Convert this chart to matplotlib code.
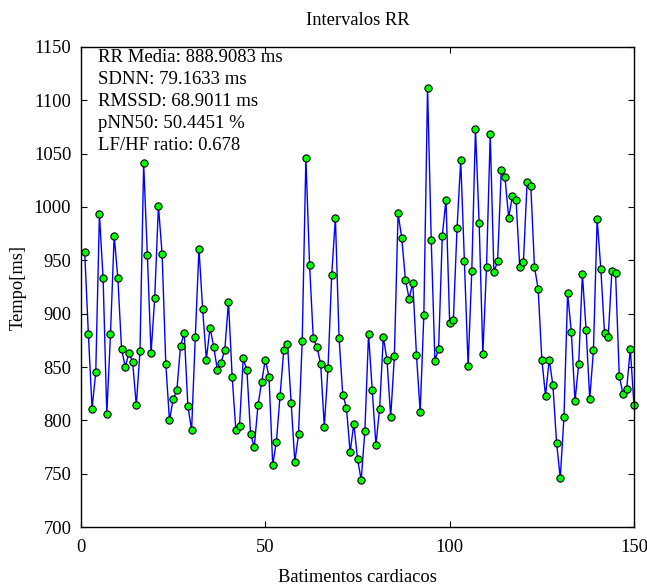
import matplotlib
matplotlib.use("Agg")
import matplotlib.pyplot as plt

beats = list(range(1, 151))
rr_ms = [
    958, 881, 811, 845, 993, 933, 806, 881, 973, 933,
    867, 850, 863, 855, 814, 865, 1041, 955, 863, 915,
    1001, 956, 853, 800, 820, 828, 870, 882, 813, 791,
    878, 961, 904, 857, 887, 869, 847, 854, 866, 911,
    841, 791, 795, 858, 847, 787, 775, 814, 836, 857,
    841, 758, 780, 823, 866, 872, 816, 761, 787, 874,
    1046, 946, 877, 869, 853, 794, 849, 936, 990, 877,
    824, 812, 770, 797, 764, 744, 790, 881, 828, 777,
    811, 878, 857, 803, 860, 994, 971, 932, 914, 929,
    861, 808, 899, 1112, 969, 856, 867, 973, 1007, 891,
    894, 980, 1044, 949, 851, 940, 1073, 985, 862, 944,
    1068, 939, 949, 1035, 1028, 990, 1010, 1007, 944, 948,
    1023, 1020, 944, 923, 857, 823, 857, 833, 779, 746,
    803, 919, 883, 818, 853, 937, 885, 820, 866, 989,
    942, 882, 878, 940, 938, 842, 825, 829, 867, 814,
]
stats_lines = [
    "RR Media: 888.9083 ms",
    "SDNN: 79.1633 ms",
    "RMSSD: 68.9011 ms",
    "pNN50: 50.4451 %",
    "LF/HF ratio: 0.678",
]
x_ticks = [0, 50, 100, 150]
y_ticks = [700, 750, 800, 850, 900, 950, 1000, 1050, 1100, 1150]

plt.rcParams['font.family'] = ['Liberation Serif', 'DejaVu Serif']

fig = plt.figure(figsize=(6.47, 5.85), dpi=100)
ax = fig.add_axes([81/647, 1-527/585, (634-81)/647, (527-47)/585])

ax.plot(beats, rr_ms, color=(0, 0, 1), linewidth=1.0,
        marker='o', markersize=5.2, markerfacecolor=(0, 1, 0),
        markeredgecolor='black', markeredgewidth=0.8, clip_on=False)

ax.set_xlim(0, 150)
ax.set_ylim(700, 1150)
ax.set_xticks(x_ticks)
ax.set_yticks(y_ticks)
ax.tick_params(direction='in', length=4, width=0.8, labelsize=13.3,
               top=True, right=True)
ax.tick_params(axis='x', pad=9)
ax.tick_params(axis='y', pad=7)
for s in ax.spines.values():
    s.set_linewidth(1.0)

ax.set_title("Intervalos RR", fontsize=13.3, pad=16)
ax.set_xlabel("Batimentos cardiacos", fontsize=13.3, labelpad=9)
ax.set_ylabel("Tempo[ms]", fontsize=13.3, labelpad=5)

ax.text(0.031, 0.995, "\n".join(stats_lines), transform=ax.transAxes,
        ha='left', va='top', fontsize=13.5, linespacing=1.37)

fig.savefig("out.png", dpi=100)
